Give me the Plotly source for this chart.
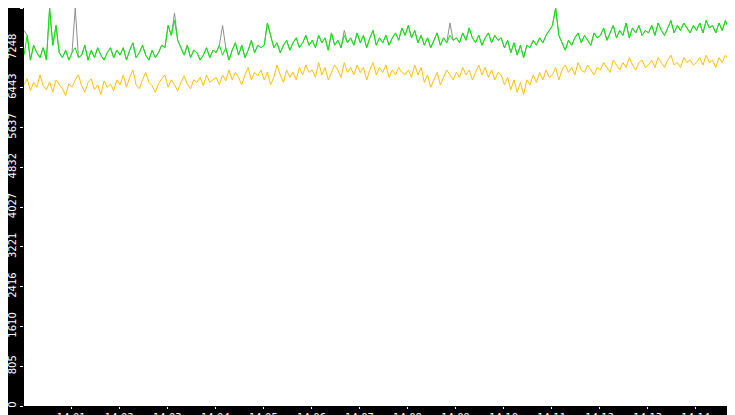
import plotly.graph_objects as go
import pandas as pd

orange_vals = [
6500,6620,6380,6550,6450,6700,6480,6400,6560,6350,6600,6500,6420,6280,6520,
6450,6600,6700,6480,6350,6550,6620,6400,6500,6300,6580,6450,6520,6380,6600,
6500,6700,6450,6650,6800,6500,6420,6600,6750,6550,6480,6350,6520,6620,6700,
6450,6600,6500,6380,6550,6680,6520,6420,6600,6550,6650,6480,6700,6550,6600,
6650,6500,6700,6580,6800,6600,6750,6650,6500,6700,6850,6600,6750,6680,6800,
6600,6750,6500,6650,6900,6700,6550,6800,6650,6750,6600,6850,6700,6900,6750,
6800,6650,6950,6700,6850,6600,6750,6900,6800,6650,6950,6750,6850,6700,6900,
6750,6850,6600,6800,6950,6700,6850,6750,6900,6650,6800,6700,6850,6750,6700,
6800,6650,6900,6700,6850,6550,6700,6450,6600,6750,6500,6650,6800,6700,6600,
6750,6650,6850,6700,6800,6600,6750,6900,6700,6850,6650,6800,6600,6750,6700,
6500,6650,6400,6600,6350,6550,6300,6600,6500,6700,6550,6750,6600,6800,6650,
6700,6850,6600,6800,6900,6750,6850,6700,6950,6800,6750,6900,6800,6700,6850,
6800,6950,6850,6750,7000,6900,6800,6950,6850,7050,6900,6800,6950,7000,6850,
6900,7000,6850,7050,6950,6850,7000,7100,6900,6950,6850,7050,6950,7000,6900,
6950,7050,6900,7100,6950,7000,6850,7050,6950,7100,7000,6900,7050,6950,7000,
3500,0]

green_vals = [
7100,7500,7000,7300,7150,7050,7250,7000,8054,7300,7700,7150,7050,7200,7000,
7150,7250,7050,7100,7300,7000,7200,7050,7250,7100,7000,7150,7250,7050,7200,
7100,7250,7000,7200,7350,7050,7150,7300,7100,7000,7200,7050,7150,7300,7250,
7700,7500,7800,7400,7250,7100,7300,7050,7200,7150,7000,7100,7250,7050,7200,
7150,7300,7100,7250,7000,7200,7350,7100,7300,7050,7200,7400,7150,7300,7250,
7300,7750,7500,7250,7350,7150,7300,7400,7200,7350,7450,7250,7350,7500,7300,
7400,7250,7500,7350,7450,7200,7550,7300,7400,7250,7500,7350,7450,7300,7550,
7350,7500,7250,7450,7600,7300,7450,7350,7500,7300,7450,7550,7400,7650,7500,
7700,7450,7600,7350,7500,7300,7450,7250,7400,7550,7300,7450,7350,7500,7400,
7450,7350,7550,7400,7650,7450,7350,7500,7300,7450,7550,7350,7500,7400,7450,
7250,7400,7150,7350,7100,7300,7050,7300,7250,7400,7300,7450,7350,7500,7600,
7700,8054,7500,7350,7200,7400,7300,7450,7550,7350,7500,7400,7300,7550,7450,
7500,7650,7400,7550,7700,7450,7600,7500,7750,7450,7650,7550,7700,7500,7600,
7550,7700,7500,7750,7600,7500,7650,7800,7550,7700,7600,7750,7650,7550,7700,
7600,7750,7550,7800,7650,7700,7550,7750,7600,7800,7650,7550,7700,7600,7650,
3800,0]

# gray series differs from green only at these indices
gray_overrides = {0: 7600, 16: 8054, 47: 7950, 62: 7700, 100: 7600, 133: 7750}
gray_vals = [gray_overrides.get(i, v) for i, v in enumerate(green_vals)]

times = list(pd.date_range("2024-01-01 14:00:01", periods=225, freq="4s")) + [
    pd.Timestamp("2024-01-01 14:14:58"), pd.Timestamp("2024-01-01 14:14:59")]

y_ticks = [0, 805, 1610, 2416, 3221, 4027, 4832, 5637, 6443, 7248, 8054]
x_ticks = [f"2024-01-01 14:{m:02d}:00" for m in range(1, 15)]
x_labels = [f"14:{m:02d}" for m in range(1, 15)]

fig = go.Figure()
fig.add_trace(go.Scatter(x=times, y=gray_vals, mode="lines", line=dict(color="#909090", width=1)))
fig.add_trace(go.Scatter(x=times, y=green_vals, mode="lines", line=dict(color="#00ee00", width=1)))
fig.add_trace(go.Scatter(x=times, y=orange_vals, mode="lines", line=dict(color="#ffc000", width=1)))

font = dict(family="DejaVu Sans", size=10, color="white")
fig.update_layout(
    width=735, height=415, showlegend=False,
    paper_bgcolor="black", plot_bgcolor="white",
    margin=dict(l=16, r=0, t=0, b=17, autoexpand=False),
    xaxis=dict(range=["2024-01-01 14:00:01", "2024-01-01 14:14:59"], tickvals=x_ticks, ticktext=x_labels,
               ticks="outside", ticklen=2, tickcolor="white", tickfont=font, showgrid=False,
               zeroline=False, automargin=False),
    yaxis=dict(range=[0, 8054], tickvals=y_ticks, ticktext=[str(v) for v in y_ticks], tickangle=-90,
               ticks="outside", ticklen=3, tickcolor="white", tickfont=font, showgrid=False,
               zeroline=False, automargin=False),
)
fig.write_html("out.html")
